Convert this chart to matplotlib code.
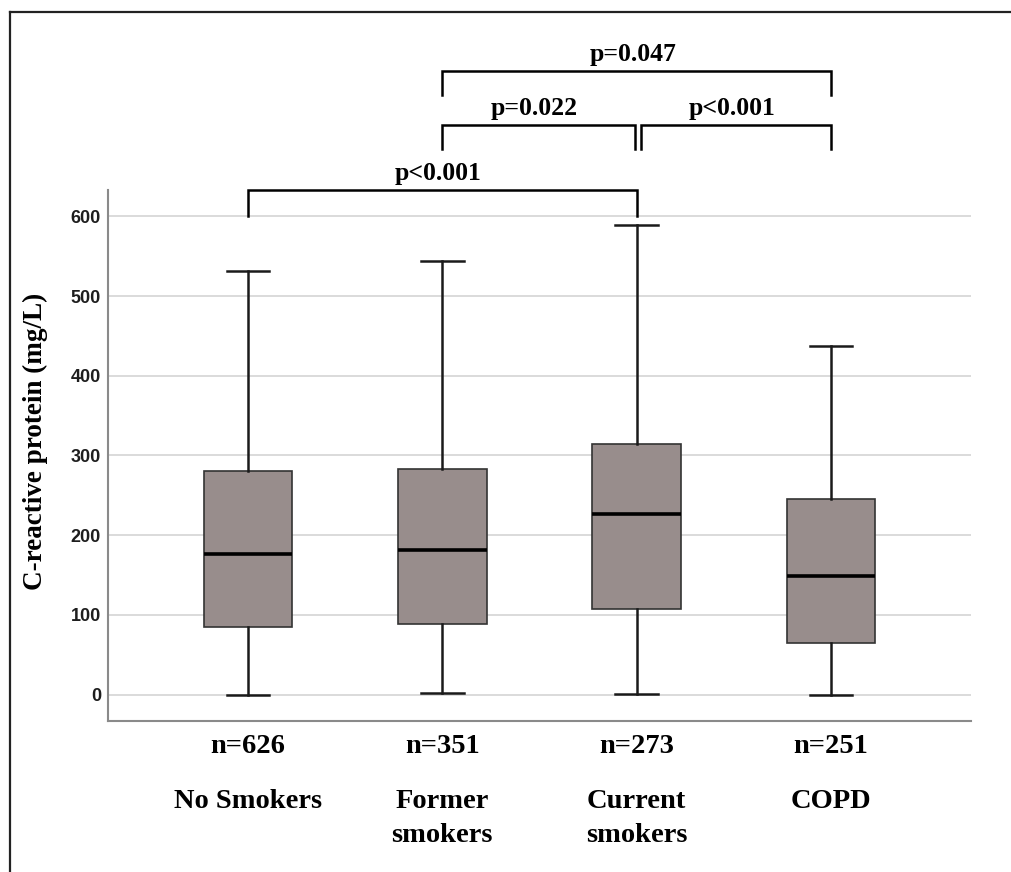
import numpy as np
import matplotlib.pyplot as plt
from matplotlib.lines import Line2D

groups = ["No Smokers", "Former\nsmokers", "Current\nsmokers", "COPD"]
n_labels = ["n=626", "n=351", "n=273", "n=251"]
whislo = [0, 2.5, 1, 0]
q1 = [85, 89, 107, 65]
med = [177, 181, 227, 149]
q3 = [280, 283, 315, 246]
whishi = [531, 544, 589, 437]

# brackets: (left group, right group, bar height, leg bottom, text)
brackets = [
    (0, 2, 633, 600, "p<0.001"),
    (1, 1.99, 714, 684, "p=0.022"),
    (2.02, 3, 714, 684, "p<0.001"),
    (1, 3, 782, 752, "p=0.047"),
]

serif = "Liberation Serif"
BOX_COLOR = "#988d8c"

fig = plt.figure(figsize=(10.11, 8.72), dpi=100)
ax = fig.add_axes([108/1011, 1-721/872, (971-108)/1011, (721-190)/872])

stats = []
for i in range(len(groups)):
    stats.append({"whislo": whislo[i], "q1": q1[i], "med": med[i],
                  "q3": q3[i], "whishi": whishi[i], "fliers": []})

ax.bxp(stats, positions=range(len(groups)), widths=0.455, patch_artist=True,
       showfliers=False,
       boxprops=dict(facecolor=BOX_COLOR, edgecolor="#333333", linewidth=1.2),
       medianprops=dict(color="black", linewidth=2.6),
       whiskerprops=dict(color="#1a1a1a", linewidth=1.8),
       capprops=dict(color="#1a1a1a", linewidth=1.8),
       capwidths=0.22, zorder=3)

ax.set_xlim(-0.72, 3.72)
ax.set_ylim(-33, 633)
ax.set_yticks([0, 100, 200, 300, 400, 500, 600])
ax.yaxis.grid(True, color="#d4d4d4", linewidth=1.2, zorder=0)
ax.set_axisbelow(True)
for s in ["top", "right"]:
    ax.spines[s].set_visible(False)
for s in ["left", "bottom"]:
    ax.spines[s].set_color("#8a8a8a")
    ax.spines[s].set_linewidth(1.5)
ax.set_xticks([])
ax.tick_params(axis="y", length=0, pad=5, labelsize=13, labelcolor="#1e1e1e")
for lab in ax.get_yticklabels():
    lab.set_fontfamily("Liberation Sans")
    lab.set_fontweight("bold")

ax.set_ylabel("C-reactive protein (mg/L)", fontsize=19.5, fontweight="bold",
              family=serif)
ax.yaxis.set_label_coords(-0.070, 0.527)

# sample sizes and group names under the axis
for i in range(len(groups)):
    ax.text(i, -65, n_labels[i], ha="center", va="center", fontsize=20.5,
            fontweight="bold", family=serif, clip_on=False)
    for k, line in enumerate(groups[i].split("\n")):
        ax.text(i, -134 - k * 43, line, ha="center", va="center", fontsize=20.5,
                fontweight="bold", family=serif, clip_on=False)

# significance brackets
for x0, x1, h, low, txt in brackets:
    ax.plot([x0, x0, x1, x1], [low, h, h, low], color="black", linewidth=1.8,
            clip_on=False, solid_joinstyle="miter")
    ax.text((x0 + x1) / 2 - 0.02, h + 21, txt, ha="center", va="center",
            fontsize=18.5, fontweight="bold", family=serif, clip_on=False)

# frame lines (top and left) of the figure panel
fig.add_artist(Line2D([10/1011, 1], [1-12/872, 1-12/872], color="#222222",
                      linewidth=1.6, transform=fig.transFigure))
fig.add_artist(Line2D([10/1011, 10/1011], [0, 1-12/872], color="#222222",
                      linewidth=1.6, transform=fig.transFigure))

fig.savefig("out.png", dpi=100)
